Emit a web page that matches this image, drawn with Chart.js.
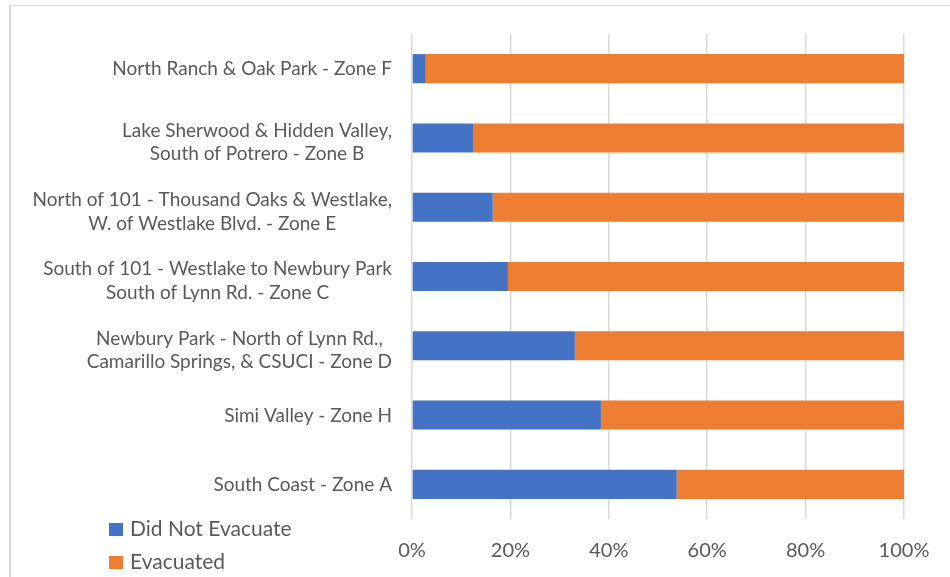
<!DOCTYPE html>
<html>
<head>
<meta charset="utf-8">
<script src="https://cdn.jsdelivr.net/npm/chart.js@4/dist/chart.umd.min.js"></script>
<style>
  html, body { margin: 0; padding: 0; background: #fff; }
  canvas { display: block; }
</style>
</head>
<body>
<canvas id="chart" width="950" height="577"></canvas>
<script>
// Zones, top to bottom
const categories = [
  ['North Ranch & Oak Park - Zone F'],
  ['Lake Sherwood & Hidden Valley,', 'South of Potrero - Zone B'],
  ['North of 101 - Thousand Oaks & Westlake,', 'W. of Westlake Blvd. - Zone E'],
  ['South of 101 - Westlake to Newbury Park', 'South of Lynn Rd. - Zone C'],
  ['Newbury Park - North of Lynn Rd.,', 'Camarillo Springs, & CSUCI - Zone D'],
  ['Simi Valley - Zone H'],
  ['South Coast - Zone A']
];

// Share of respondents, percent
const didNotEvacuate = [2.8, 12.4, 16.4, 19.5, 33.1, 38.4, 53.8];
const evacuated = [97.2, 87.6, 83.6, 80.5, 66.9, 61.6, 46.2];

const xTicks = [0, 20, 40, 60, 80, 100];

const TEXT_COLOR = '#595959';
const FONT = 'Lato, "Open Sans", sans-serif';

// white background plus the light frame round the chart
const framePlugin = {
  id: 'frame',
  beforeDraw(chart) {
    const ctx = chart.ctx;
    ctx.save();
    ctx.fillStyle = '#fff';
    ctx.fillRect(0, 0, chart.width, chart.height);
    ctx.strokeStyle = '#d9d9d9';
    ctx.lineWidth = 2;
    ctx.beginPath();
    ctx.moveTo(10, 5);
    ctx.lineTo(10, chart.height);
    ctx.stroke();
    ctx.lineWidth = 1;
    ctx.beginPath();
    ctx.moveTo(9, 5.5);
    ctx.lineTo(chart.width, 5.5);
    ctx.stroke();
    ctx.restore();
  }
};

// category labels: each block right-aligned, lines centred inside the block
const categoryLabels = {
  id: 'categoryLabels',
  afterDraw(chart) {
    const ctx = chart.ctx;
    const scale = chart.scales.y;
    const right = chart.chartArea.left - 20;
    const size = 19;
    ctx.save();
    ctx.font = size + 'px ' + FONT;
    ctx.fillStyle = TEXT_COLOR;
    ctx.textAlign = 'center';
    ctx.textBaseline = 'alphabetic';
    chart.data.labels.forEach((lines, i) => {
      const mid = scale.getPixelForTick(i);
      const blockW = Math.max(...lines.map(l => ctx.measureText(l).width));
      const cx = right - blockW / 2;
      const shift = lines.length > 1 ? 3.75 : 0;
      lines.forEach((line, j) => {
        const capMid = mid + shift + (j - (lines.length - 1) / 2) * 23.5;
        ctx.fillText(line, cx, capMid + 0.36 * size);
      });
    });
    ctx.restore();
  }
};

// legend in the lower left corner, beside the axis labels
const cornerLegend = {
  id: 'cornerLegend',
  afterDraw(chart) {
    const ctx = chart.ctx;
    const baselines = [536, 569];
    ctx.save();
    ctx.font = '21px ' + FONT;
    ctx.textAlign = 'left';
    ctx.textBaseline = 'alphabetic';
    chart.data.datasets.forEach((ds, i) => {
      const base = baselines[i];
      ctx.fillStyle = ds.backgroundColor;
      ctx.fillRect(109, base - 13, 14, 13);
      ctx.fillStyle = TEXT_COLOR;
      ctx.fillText(ds.label, 130, base);
    });
    ctx.restore();
  }
};

new Chart(document.getElementById('chart'), {
  type: 'bar',
  data: {
    labels: categories,
    datasets: [
      {
        label: 'Did Not Evacuate',
        data: didNotEvacuate,
        backgroundColor: '#4472C4',
        barPercentage: 0.42,
        categoryPercentage: 1
      },
      {
        label: 'Evacuated',
        data: evacuated,
        backgroundColor: '#ED7D31',
        barPercentage: 0.42,
        categoryPercentage: 1
      }
    ]
  },
  options: {
    indexAxis: 'y',
    responsive: false,
    animation: false,
    devicePixelRatio: 1,
    layout: {
      padding: { top: 34, right: 46, bottom: 0, left: 0 }
    },
    plugins: {
      legend: { display: false },
      tooltip: { enabled: false }
    },
    scales: {
      x: {
        stacked: true,
        min: 0,
        max: 100,
        afterBuildTicks: scale => {
          scale.ticks = xTicks.map(v => ({ value: v }));
        },
        afterFit: scale => {
          scale.height = 58;
        },
        border: { display: false },
        grid: {
          color: '#d9d9d9',
          lineWidth: 1.5,
          drawTicks: false
        },
        ticks: {
          padding: 20,
          color: TEXT_COLOR,
          font: { family: FONT, size: 20 },
          callback: value => value + '%'
        }
      },
      y: {
        stacked: true,
        afterFit: scale => {
          scale.width = 412;
        },
        border: { display: false },
        grid: { display: false },
        ticks: { display: false }
      }
    }
  },
  plugins: [framePlugin, categoryLabels, cornerLegend]
});
</script>
</body>
</html>
